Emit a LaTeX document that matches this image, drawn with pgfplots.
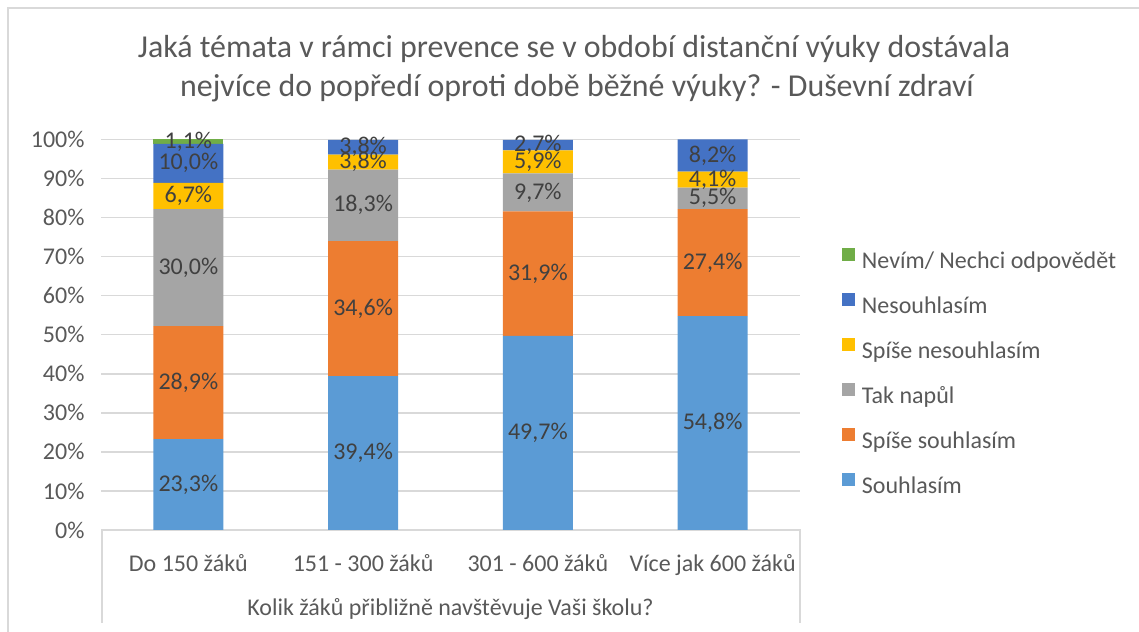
\documentclass[border=0pt]{standalone}
\usepackage{pgfplots}
\pgfplotsset{compat=1.18}
\usepackage{pgfplotstable}
\usepackage{fontspec}
\setmainfont{Carlito}
\definecolor{cSou}{HTML}{5B9BD5}
\definecolor{cSpS}{HTML}{ED7D31}
\definecolor{cTak}{HTML}{A5A5A5}
\definecolor{cSpN}{HTML}{FFC000}
\definecolor{cNes}{HTML}{4472C4}
\definecolor{cNev}{HTML}{70AD47}
\definecolor{axgray}{HTML}{D9D9D9}
\definecolor{txt}{HTML}{595959}
\definecolor{lbl}{HTML}{404040}

\pgfplotstableread{
x sou sps tak spn nes
0 23.3 28.9 30.0 6.7 10.0
1 39.4 34.6 18.3 3.8 3.8
2 49.7 31.9 9.7 5.9 2.7
3 54.8 27.4 5.5 4.1 8.2
}\main
\pgfplotstableread{
x nev
0 1.1
}\nevim

\newcommand{\fs}{\fontsize{24bp}{28bp}\selectfont}

\begin{document}
\begin{tikzpicture}
\path[use as bounding box] (0bp,0bp) rectangle (1139bp,632bp);
\draw[axgray, line width=1.5bp] (8bp,0bp) -- (8bp,624bp) -- (1139bp,624bp);
\draw[axgray, line width=1.5bp] (102bp,9bp) -- (102bp,102bp) -- (800bp,102bp) -- (800bp,9bp);
\begin{axis}[
  at={(101bp,102bp)}, anchor=south west,
  scale only axis, width=699bp, height=390.5bp,
  ybar stacked, bar width=70bp,
  xmin=-0.5, xmax=3.5, ymin=0, ymax=100,
  xtick={0,1,2,3},
  xticklabels={Do 150 žáků, 151 - 300 žáků, 301 - 600 žáků, Více jak 600 žáků},
  ytick={0,10,...,100},
  yticklabel={\pgfmathprintnumber{\tick}\%},
  /pgf/number format/assume math mode=true,
  ymajorgrids, grid style={axgray, line width=1.5bp},
  major tick length=0pt,
  axis line style={draw=none},
  tick label style={font=\fs, text=txt},
  yticklabel style={xshift=-13bp},
  xticklabel style={yshift=-21bp},
  xlabel={Kolik žáků přibližně navštěvuje Vaši školu?},
  xlabel style={at={(0.5,0)}, anchor=base, yshift=-85bp, font=\fs, text=txt},
  point meta=explicit,
  nodes near coords={\pgfmathprintnumber[fixed,fixed zerofill,precision=1,use comma]{\pgfplotspointmeta}\%},
  every node near coord/.append style={font=\fs, text=lbl, anchor=center},
  legend style={at={(1.0597,0.401)}, anchor=west, draw=none, fill=none, font=\fs, text=txt,
    inner sep=0pt, row sep=20bp, column sep=7bp,
    nodes={inner sep=0pt, text height=17bp, text depth=5bp}},
  legend cell align=left,
  reverse legend,
  legend image code/.code={\fill[#1] (0bp,1bp) rectangle (13bp,14bp);},
]
\addplot[fill=cSou, draw=none] table[x=x,y=sou,meta=sou] {\main};
\addlegendentry{Souhlasím}
\addplot[fill=cSpS, draw=none] table[x=x,y=sps,meta=sps] {\main};
\addlegendentry{Spíše souhlasím}
\addplot[fill=cTak, draw=none] table[x=x,y=tak,meta=tak] {\main};
\addlegendentry{Tak napůl}
\addplot[fill=cSpN, draw=none] table[x=x,y=spn,meta=spn] {\main};
\addlegendentry{Spíše nesouhlasím}
\addplot[fill=cNes, draw=none] table[x=x,y=nes,meta=nes] {\main};
\addlegendentry{Nesouhlasím}
\addplot[fill=cNev, draw=none] table[x=x,y=nev,meta=nev] {\nevim};
\addlegendentry{Nevím/ Nechci odpovědět}
\end{axis}
\node[anchor=base, font=\fontsize{31.9bp}{38bp}\selectfont, text=txt] at (574bp,574bp) {Jaká témata v rámci prevence se v období distanční výuky dostávala};
\node[anchor=base, font=\fontsize{31.9bp}{38bp}\selectfont, text=txt] at (577bp,535bp) {nejvíce do popředí oproti době běžné výuky? - Duševní zdraví};
\end{tikzpicture}
\end{document}
